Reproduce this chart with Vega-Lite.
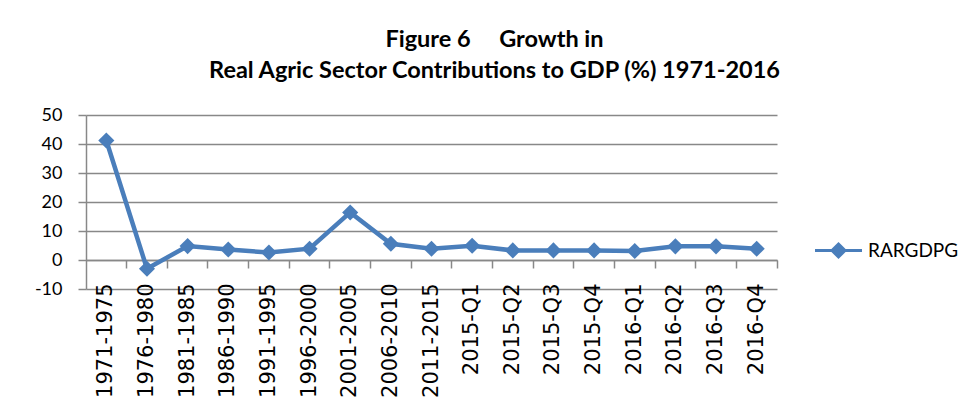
{
  "$schema": "https://vega.github.io/schema/vega-lite/v6.json",
  "width": 691,
  "height": 174,
  "autosize": {"type": "none"},
  "padding": {"left": 86, "top": 115, "right": 197, "bottom": 120},
  "background": "white",
  "title": {
    "text": ["Figure 6\u00a0\u00a0\u00a0\u00a0\u00a0Growth in", "Real Agric Sector Contributions to GDP (%) 1971-2016"],
    "font": "Lato",
    "fontSize": 23.5,
    "fontWeight": "bold",
    "color": "black",
    "anchor": "middle",
    "frame": "group",
    "dx": 63,
    "offset": 24,
    "lineHeight": 31
  },
  "data": {
    "values": [
      {"period": "1971-1975", "value": 41.2, "series": "RARGDPG"},
      {"period": "1976-1980", "value": -3.0, "series": "RARGDPG"},
      {"period": "1981-1985", "value": 4.8, "series": "RARGDPG"},
      {"period": "1986-1990", "value": 3.6, "series": "RARGDPG"},
      {"period": "1991-1995", "value": 2.6, "series": "RARGDPG"},
      {"period": "1996-2000", "value": 3.9, "series": "RARGDPG"},
      {"period": "2001-2005", "value": 16.4, "series": "RARGDPG"},
      {"period": "2006-2010", "value": 5.6, "series": "RARGDPG"},
      {"period": "2011-2015", "value": 3.9, "series": "RARGDPG"},
      {"period": "2015-Q1", "value": 4.9, "series": "RARGDPG"},
      {"period": "2015-Q2", "value": 3.3, "series": "RARGDPG"},
      {"period": "2015-Q3", "value": 3.3, "series": "RARGDPG"},
      {"period": "2015-Q4", "value": 3.3, "series": "RARGDPG"},
      {"period": "2016-Q1", "value": 3.1, "series": "RARGDPG"},
      {"period": "2016-Q2", "value": 4.7, "series": "RARGDPG"},
      {"period": "2016-Q3", "value": 4.7, "series": "RARGDPG"},
      {"period": "2016-Q4", "value": 3.9, "series": "RARGDPG"}
    ]
  },
  "layer": [
    {
      "mark": {
        "type": "line",
        "strokeWidth": 4.5,
        "point": {"shape": "diamond", "size": 260, "filled": true, "opacity": 1}
      },
      "encoding": {
        "x": {
          "field": "period",
          "type": "ordinal",
          "sort": null,
          "bandPosition": 0.5,
          "scale": {"type": "band", "paddingInner": 0, "paddingOuter": 0},
          "axis": {
            "orient": "bottom",
            "title": null,
            "labels": false,
            "ticks": false,
            "domain": false,
            "grid": false
          }
        },
        "y": {
          "field": "value",
          "type": "quantitative",
          "scale": {"domain": [-10, 50], "nice": false},
          "axis": {
            "title": null,
            "values": [-10, 0, 10, 20, 30, 40, 50],
            "labelExpr": "'' + datum.value",
            "labelOverlap": false,
            "grid": true,
            "gridColor": "#888888",
            "gridWidth": 1.5,
            "domainColor": "#888888",
            "domainWidth": 1.5,
            "tickColor": "#888888",
            "tickWidth": 1.5,
            "tickSize": 8,
            "labelPadding": 16,
            "labelFont": "Lato",
            "labelFontSize": 18,
            "labelColor": "black"
          }
        },
        "color": {
          "field": "series",
          "type": "nominal",
          "scale": {"range": ["#4A7EBB"]},
          "legend": {
            "orient": "none",
            "legendX": 739,
            "legendY": 122,
            "title": null,
            "padding": 0,
            "symbolType": "M-2,0L2,0M0,-0.55L0.55,0L0,0.55L-0.55,0Z",
            "symbolSize": 552,
            "symbolStrokeWidth": 3,
            "symbolFillColor": "#4A7EBB",
            "symbolStrokeColor": "#4A7EBB",
            "labelFont": "Lato",
            "labelFontSize": 19,
            "labelColor": "black",
            "labelOffset": 16
          }
        }
      }
    },
    {
      "mark": {"type": "line", "opacity": 0},
      "encoding": {
        "x": {
          "field": "period",
          "type": "ordinal",
          "sort": null,
          "bandPosition": 0.5,
          "scale": {"type": "band", "paddingInner": 0, "paddingOuter": 0},
          "axis": {
            "orient": "bottom",
            "offset": -29,
            "title": null,
            "labels": true,
            "labelAngle": -90,
            "labelAlign": "right",
            "labelBaseline": "middle",
            "labelFont": "DejaVu Sans",
            "labelFontSize": 21,
            "labelColor": "black",
            "labelPadding": 15,
            "labelOffset": 0,
            "labelOverlap": false,
            "labelBound": false,
            "labelFlush": false,
            "ticks": true,
            "tickSize": 8,
            "tickColor": "#888888",
            "tickWidth": 1.5,
            "bandPosition": 1,
            "domain": true,
            "domainColor": "#888888",
            "domainWidth": 1.5,
            "grid": false
          }
        },
        "y": {
          "field": "value",
          "type": "quantitative",
          "scale": {"domain": [-10, 50], "nice": false},
          "axis": {
            "title": null,
            "values": [-10, 0, 10, 20, 30, 40, 50],
            "labelExpr": "'' + datum.value",
            "labelOverlap": false,
            "grid": true,
            "gridColor": "#888888",
            "gridWidth": 1.5,
            "domainColor": "#888888",
            "domainWidth": 1.5,
            "tickColor": "#888888",
            "tickWidth": 1.5,
            "tickSize": 8,
            "labelPadding": 16,
            "labelFont": "Lato",
            "labelFontSize": 18,
            "labelColor": "black"
          }
        }
      }
    }
  ],
  "resolve": {"axis": {"x": "independent"}},
  "config": {"view": {"stroke": null}}
}
